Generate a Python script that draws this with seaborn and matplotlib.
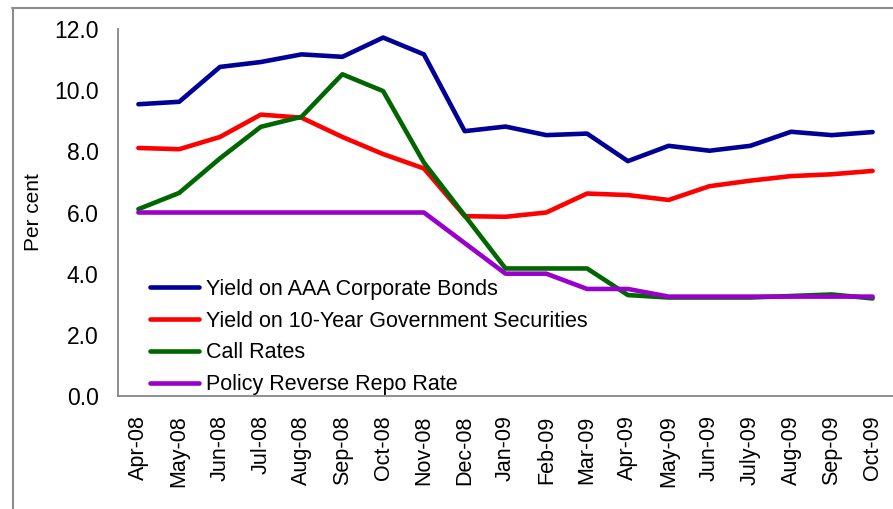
import pandas as pd
import matplotlib
matplotlib.use('Agg')
import matplotlib.pyplot as plt
import seaborn as sns
from matplotlib.lines import Line2D

# 데이터
months = ['Apr-08', 'May-08', 'Jun-08', 'Jul-08', 'Aug-08', 'Sep-08', 'Oct-08', 'Nov-08', 'Dec-08',
          'Jan-09', 'Feb-09', 'Mar-09', 'Apr-09', 'May-09', 'Jun-09', 'July-09', 'Aug-09', 'Sep-09', 'Oct-09']
aaa_bonds = [9.54, 9.62, 10.76, 10.92, 11.17, 11.09, 11.72, 11.17, 8.66, 8.81,
             8.53, 8.58, 7.68, 8.18, 8.02, 8.18, 8.64, 8.53, 8.63]
gsec_10y = [8.11, 8.07, 8.47, 9.20, 9.10, 8.47, 7.91, 7.44, 5.88, 5.86,
            6.00, 6.62, 6.57, 6.41, 6.86, 7.04, 7.19, 7.25, 7.36]
call_rates = [6.11, 6.64, 7.77, 8.80, 9.13, 10.52, 9.97, 7.63, 5.90, 4.17,
              4.17, 4.17, 3.30, 3.22, 3.22, 3.22, 3.27, 3.32, 3.19]
reverse_repo = [6.0, 6.0, 6.0, 6.0, 6.0, 6.0, 6.0, 6.0, 5.0, 4.0,
                4.0, 3.5, 3.5, 3.25, 3.25, 3.25, 3.25, 3.25, 3.25]
series_names = ['Yield on AAA Corporate Bonds', 'Yield on 10-Year Government Securities',
                'Call Rates', 'Policy Reverse Repo Rate']
series_colors = ['#000099', '#ff0000', '#006600', '#9900cc']
y_ticks = [0, 2, 4, 6, 8, 10, 12]

# long format
pos = list(range(len(months)))
frames = []
for name, vals in zip(series_names, [aaa_bonds, gsec_10y, call_rates, reverse_repo]):
    frames.append(pd.DataFrame({'pos': pos, 'value': vals, 'series': name}))
df = pd.concat(frames, ignore_index=True)

sns.set_style('white')
plt.rcParams['font.family'] = ['Liberation Sans', 'DejaVu Sans']
plt.rcParams['text.color'] = 'black'
plt.rcParams['axes.labelcolor'] = 'black'
plt.rcParams['xtick.labelcolor'] = 'black'
plt.rcParams['ytick.labelcolor'] = 'black'

fig = plt.figure(figsize=(8.93, 5.09), dpi=100)
ax = fig.add_axes([118 / 893, 1 - 396 / 509, 775 / 893, 367 / 509])

sns.lineplot(data=df, x='pos', y='value', hue='series', hue_order=series_names,
             palette=series_colors, linewidth=3.3, sort=False, ax=ax, legend=False)

ax.set_xlim(-0.5, len(months) - 0.5)
ax.set_ylim(0, 12)
ax.set_yticks(y_ticks)
ax.set_yticklabels([f'{v:.1f}' for v in y_ticks], fontsize=16.5)
ax.set_xticks(pos)
ax.set_xticklabels(months, rotation=90, fontsize=15.5)
ax.set_xticks([p - 0.5 for p in pos] + [len(months) - 0.5], minor=True)
ax.tick_params(axis='x', which='major', length=0, pad=14)
ax.tick_params(axis='x', which='minor', length=5, width=1.3, color='#868686', direction='out')
ax.tick_params(axis='y', length=6, width=1.3, color='#868686', direction='out', pad=8)
ax.set_xlabel('')
ax.set_ylabel('Per cent', fontsize=15, labelpad=8)

for s in ['top', 'right']:
    ax.spines[s].set_visible(False)
for s in ['left', 'bottom']:
    ax.spines[s].set_color('#868686')
    ax.spines[s].set_linewidth(1.3)

handles = [Line2D([], [], color=c, linewidth=3.3) for c in series_colors]
ax.legend(handles, series_names, loc='lower left', bbox_to_anchor=(0.03, -0.022),
          frameon=False, fontsize=15.5, handlelength=2.3, handletextpad=0.3,
          labelspacing=0.51, borderaxespad=0)

# 바깥 테두리
fig.add_artist(Line2D([12.5 / 893, 12.5 / 893], [0, 1 - 8 / 509], transform=fig.transFigure,
                      color='#8c8c8c', linewidth=1.5))
fig.add_artist(Line2D([12 / 893, 1], [1 - 8 / 509, 1 - 8 / 509], transform=fig.transFigure,
                      color='#8c8c8c', linewidth=1.5))

fig.savefig('out.png', dpi=100)
